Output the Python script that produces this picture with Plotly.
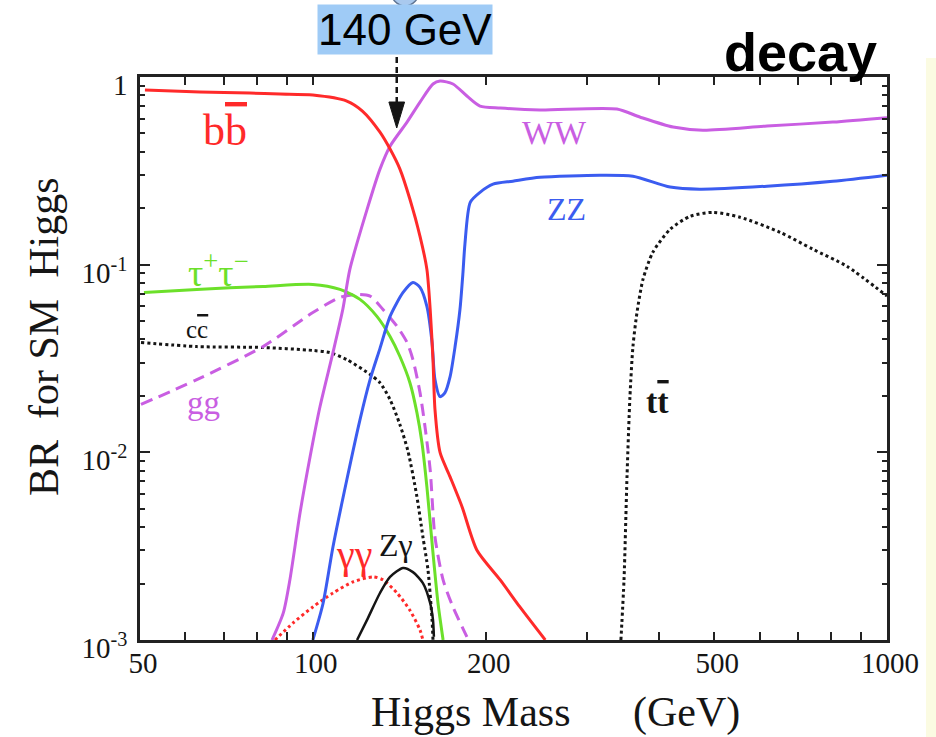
import math
import plotly.graph_objects as go

# ---- branching ratios of the SM Higgs versus its mass (GeV) ----
mass_bb = [51, 63.6, 77.7, 87.7, 100, 114.6, 122, 130.9, 136.3, 141.8, 147.6, 153.7,
           158, 160.1, 161.9, 163.2, 166.6, 173.4, 181.9, 193, 212, 229.4, 254]
br_bb = [0.852, 0.832, 0.821, 0.811, 0.801, 0.744, 0.658, 0.508, 0.413, 0.323, 0.223, 0.1416,
         0.0944, 0.0577, 0.0312, 0.01688, 0.00995, 0.0074, 0.00513, 0.00302, 0.00209, 0.0015, 0.001]

mass_ww = [84.9, 88.8, 91.2, 95, 98.9, 102.9, 108.4, 112.8, 116, 124.3, 130.9, 136.3, 145.9,
           153.7, 161.9, 166.6, 175.4, 185.5, 195.5, 212, 248.7, 338.5, 371, 424, 478, 618, 805, 1000]
br_ww = [0.001, 0.00139, 0.00209, 0.00476, 0.00947, 0.0175, 0.034, 0.058, 0.0944, 0.197, 0.323,
         0.428, 0.575, 0.735, 0.918, 0.952, 0.918, 0.792, 0.700, 0.683, 0.667, 0.675, 0.612, 0.541,
         0.521, 0.548, 0.575, 0.607]

mass_zz = [100, 104.2, 108.4, 114.6, 120.8, 125.8, 130.9, 136.3, 143.6, 149.4, 153.7, 158, 161.3,
           163.2, 166.6, 169.9, 173.4, 176.9, 180.4, 182.6, 184, 188, 195.5, 206, 223, 248.7, 316,
           361, 419, 472, 618, 805, 1000]
br_zz = [0.001, 0.00157, 0.00313, 0.00714, 0.0149, 0.0244, 0.0358, 0.053, 0.0711, 0.0804, 0.0757,
         0.0599, 0.0385, 0.0244, 0.0198, 0.0208, 0.0253, 0.0366, 0.0577, 0.091, 0.128, 0.215, 0.243,
         0.2685, 0.2785, 0.292, 0.2997, 0.296, 0.259, 0.2525, 0.262, 0.2785, 0.30]

mass_tautau = [50.8, 62.8, 81.9, 100, 111.5, 120.8, 129.3, 136.3, 141.8, 147.6, 151.8, 154.9,
               158, 161.9, 165.2, 168.6]
br_tautau = [0.0711, 0.0738, 0.0766, 0.0785, 0.0738, 0.0653, 0.053, 0.0414, 0.0324, 0.0235,
             0.01627, 0.01125, 0.00655, 0.00291, 0.00157, 0.001]

mass_gg = [50.2, 62.8, 81.9, 100, 111.5, 119.4, 125.8, 132.5, 140.2, 145.9, 149.4, 153.7, 156.8,
           160.1, 163.2, 168.6, 175.4, 185.5]
br_gg = [0.018, 0.0244, 0.0366, 0.0556, 0.0669, 0.0694, 0.068, 0.0577, 0.0469, 0.0385, 0.0312,
         0.0208, 0.0137, 0.00807, 0.00354, 0.00209, 0.0015, 0.00104]

mass_cc = [50.2, 62.8, 81.9, 100, 107, 114.6, 125.8, 130.9, 136.3, 141.8, 146.5, 151.8, 155.5,
           158.7, 161.3, 161.9]
br_cc = [0.0385, 0.0366, 0.0362, 0.0349, 0.034, 0.0312, 0.026, 0.0235, 0.0191, 0.01404, 0.0101,
         0.0058, 0.00354, 0.00236, 0.00128, 0.001]

mass_gamgam = [85.9, 92.3, 100, 108.4, 117.5, 127.3, 132.5, 140.2, 147.6, 153.7, 155.5]
br_gamgam = [0.001, 0.00123, 0.0015, 0.00178, 0.00204, 0.00217, 0.00209, 0.00178, 0.00144,
             0.00113, 0.001]

mass_zgam = [119.4, 124.3, 130.9, 136.3, 143.6, 149.4, 155.5, 160.1, 161.9, 162.5]
br_zgam = [0.001, 0.00128, 0.00178, 0.00217, 0.00242, 0.0023, 0.00201, 0.00157, 0.00128, 0.00104]

mass_tt = [344, 348.3, 352.5, 356.7, 361, 366.9, 375.8, 391, 419, 453.8, 497.6, 554.6, 651, 743,
           851.5, 1000]
br_tt = [0.001, 0.00209, 0.0074, 0.0198, 0.0366, 0.0556, 0.0834, 0.1164, 0.1543, 0.181, 0.190,
         0.179, 0.1488, 0.1208, 0.098, 0.068]

# axis ticks
x_tickvals = [50, 60, 70, 80, 90, 100, 200, 300, 400, 500, 600, 700, 800, 900, 1000]
x_ticktext = ["50", "", "", "", "", "100", "200", "", "", "500", "", "", "", "", "1000"]
y_tickvals = [0.001, 0.01, 0.1, 1]
y_ticktext = ["10<sup>-3</sup>", "10<sup>-2</sup>", "10<sup>-1</sup>", "1"]
y_minorvals = [k * 10 ** e for e in (-3, -2, -1) for k in range(2, 10)]

marked_mass = 140  # GeV, highlighted mass

SERIF = "Liberation Serif"
SANS = "Liberation Sans"
RED = "#ff2a2a"
VIOLET = "#c95ee2"
BLUE = "#3b5cf0"
GREEN = "#6ce02a"
INK = "#151515"

X_MIN, X_MAX = 50, 1000
# plot frame in pixels (used to place free text in paper units)
L, R, T, B = 140, 887, 77, 640


def paper_x(px):
    return (px - L) / (R - L)


def paper_y(py):
    return (B - py) / (B - T)


fig = go.Figure()


def curve(x, y, color, dash="solid", width=3):
    fig.add_trace(go.Scatter(x=x, y=y, mode="lines",
                             line=dict(color=color, width=width, dash=dash,
                                       shape="spline", smoothing=0.7),
                             hoverinfo="skip", showlegend=False))


curve(mass_cc, br_cc, INK, "dot", 3)
curve(mass_tt, br_tt, INK, "dot", 3)
curve(mass_gamgam, br_gamgam, RED, "dot", 3)
curve(mass_gg, br_gg, VIOLET, "12px,7px", 3)
curve(mass_zgam, br_zgam, INK, "solid", 2.5)
curve(mass_tautau, br_tautau, GREEN, "solid", 3)
curve(mass_zz, br_zz, BLUE, "solid", 3)
curve(mass_ww, br_ww, VIOLET, "solid", 3)
curve(mass_bb, br_bb, RED, "solid", 3)


def label(text, m, br, color, size, bold=False):
    if bold:
        text = "<b>" + text + "</b>"
    fig.add_annotation(x=math.log10(m), y=math.log10(br), xref="x", yref="y",
                       xanchor="center", yanchor="middle",
                       text=text, showarrow=False,
                       font=dict(family=SERIF, size=size, color=color))


ovl = "<span style='text-decoration:overline'>{}</span>"
label("b" + ovl.format("b"), 70.3, 0.52, RED, 44)
label("WW", 264, 0.505, VIOLET, 34)
label("ZZ", 277, 0.197, BLUE, 32)
label("τ<sup>+</sup>τ<sup>−</sup>", 68.6, 0.094, GREEN, 38)
label("c" + ovl.format("c"), 62.8, 0.045, INK, 25)
label("gg", 64.4, 0.0184, VIOLET, 33)
label("t" + ovl.format("t"), 399, 0.0186, INK, 34, bold=True)
label("γγ", 118, 0.00285, RED, 40)
label("Zγ", 139.6, 0.0032, INK, 32)

# paper-x of the highlighted mass on the log axis
px_mark = (math.log10(marked_mass) - math.log10(X_MIN)) / (math.log10(X_MAX) - math.log10(X_MIN))

shapes = [
    # dashed pointer down to the highlighted mass
    dict(type="line", xref="paper", yref="paper", x0=px_mark, x1=px_mark,
         y0=paper_y(57), y1=paper_y(106),
         line=dict(color=INK, width=2.5, dash="6px,4px")),
    dict(type="path", xref="paper", yref="paper",
         path=(f"M {px_mark - 0.0105} {paper_y(102)} L {px_mark + 0.0105} {paper_y(102)} "
               f"L {px_mark} {paper_y(128)} Z"),
         fillcolor=INK, line=dict(color=INK, width=1)),
    # pale strip at the right edge of the page
    dict(type="rect", xref="paper", yref="paper", x0=paper_x(926), x1=paper_x(940),
         y0=paper_y(760), y1=paper_y(58),
         fillcolor="#fbfbe2", line=dict(width=0), layer="below"),
    # bubble peeking in at the top
    dict(type="circle", xref="paper", yref="paper", x0=paper_x(391), x1=paper_x(419),
         y0=paper_y(6), y1=paper_y(-24),
         fillcolor="#a9c9ee", line=dict(color="#5f7594", width=1.5)),
]

fig.add_annotation(xref="paper", yref="paper", x=paper_x(404.5), y=paper_y(30),
                   xanchor="center", yanchor="middle", text="140 GeV",
                   showarrow=False, bgcolor="#9fcbf6", borderpad=0,
                   font=dict(family=SANS, size=44, color="#000000"))
fig.add_annotation(xref="paper", yref="paper", x=paper_x(800), y=paper_y(52),
                   xanchor="center", yanchor="middle", text="<b>decay</b>",
                   showarrow=False, font=dict(family=SANS, size=54, color="#000000"))

# axis titles
fig.add_annotation(xref="paper", yref="paper", x=paper_x(471), y=paper_y(712),
                   xanchor="center", yanchor="middle",
                   text="Higgs Mass", showarrow=False,
                   font=dict(family=SERIF, size=42, color=INK))
fig.add_annotation(xref="paper", yref="paper", x=paper_x(686), y=paper_y(712),
                   xanchor="center", yanchor="middle",
                   text="(GeV)", showarrow=False,
                   font=dict(family=SERIF, size=42, color=INK))
fig.add_annotation(xref="paper", yref="paper", x=paper_x(44), y=paper_y(337),
                   xanchor="center", yanchor="middle",
                   text="BR&nbsp;&nbsp;for SM&nbsp;&nbsp;Higgs", textangle=-90, showarrow=False,
                   font=dict(family=SERIF, size=42, color=INK))

axis_common = dict(
    type="log", ticks="inside", tickcolor="#222", tickwidth=1.5,
    showline=True, linecolor="#222", linewidth=2.5, mirror="ticks",
    showgrid=False, zeroline=False,
    tickfont=dict(family=SERIF, size=29, color=INK),
)

fig.update_layout(
    width=936, height=737, autosize=False,
    margin=dict(l=L, r=936 - R, t=T, b=737 - B),
    paper_bgcolor="white", plot_bgcolor="white",
    showlegend=False,
    shapes=shapes,
    xaxis=dict(axis_common, range=[math.log10(X_MIN), math.log10(X_MAX)],
               tickvals=x_tickvals, ticktext=x_ticktext, ticklen=8,
               ticklabelstandoff=-5, ticklabelshift=3),
    yaxis=dict(axis_common, range=[-3, 0], tickvals=y_tickvals, ticktext=y_ticktext,
               ticklen=10, ticklabelstandoff=4, ticklabelshift=8,
               minor=dict(tickvals=y_minorvals, ticks="inside", ticklen=5,
                          tickcolor="#222", tickwidth=1.5)),
)

fig.write_html("out.html")
